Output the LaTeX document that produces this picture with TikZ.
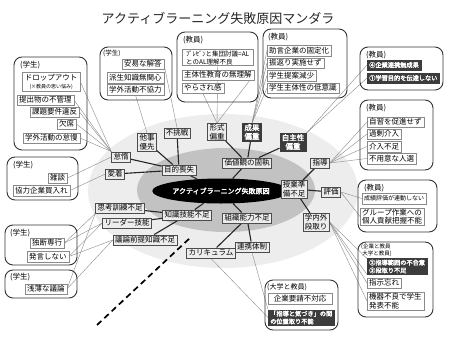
\documentclass[tikz,border=0pt]{standalone}
\usepackage{fontspec}
\setmainfont{Noto Sans CJK JP}[AutoFakeBold=2.5]
\usetikzlibrary{shapes.geometric}
\pgfdeclarelayer{bg}
\pgfdeclarelayer{links}
\pgfsetlayers{bg,links,main}
\definecolor{lightbg}{HTML}{EDEDED}
\definecolor{midbg}{HTML}{C2C2C2}
\definecolor{darkbox}{HTML}{3C3C3C}
\definecolor{catfill}{HTML}{EDEDED}
\definecolor{lineg}{HTML}{8A8A8A}
\definecolor{frame}{HTML}{333333}
\tikzset{
  item/.style={draw=lineg, fill=white, line width=0.45pt, inner xsep=2pt, inner ysep=1pt, minimum height=10.5pt, anchor=west, font=\fontsize{7.5}{8.6}\selectfont, align=left},
  ditem/.style={item, draw=darkbox, fill=darkbox, text=white, font=\fontsize{6.2}{7.8}\selectfont\bfseries},
  cat/.style={draw=black!70, fill=catfill, line width=0.5pt, inner xsep=2pt, inner ysep=1pt, minimum height=10.5pt, font=\fontsize{7.5}{8.6}\selectfont, align=center},
  dcat/.style={cat, draw=darkbox, fill=darkbox, text=white, font=\fontsize{7.5}{8.6}\selectfont\bfseries},
  grp/.style={draw=frame, line width=0.9pt, rounded corners=8pt},
  grplabel/.style={anchor=north west, inner sep=0pt, font=\fontsize{7.5}{8.5}\selectfont, align=left},
  strong/.style={draw=black!85, line width=1.1pt},
  weak/.style={draw=lineg, line width=0.4pt},
  dashline/.style={draw=black, line width=1.7pt, dash pattern=on 6pt off 4pt}
}
\begin{document}
\begin{tikzpicture}[x=1pt,y=-1pt]
\useasboundingbox (0,0) rectangle (449,337);
\begin{pgfonlayer}{bg}
\fill[lightbg] (223,191) ellipse [x radius=135pt, y radius=77pt];
\fill[midbg] (226,190) ellipse [x radius=89pt, y radius=42pt];
\end{pgfonlayer}

% title
\node[font=\fontsize{13}{15}\selectfont, text=black!85] (title) at (218,18) {アクティブラーニング失敗原因マンダラ};

% core
\node[ellipse, fill=black, minimum width=110pt, minimum height=25pt, inner sep=0pt, text=white, font=\fontsize{7}{8}\selectfont\bfseries] (core) at (221,191) {アクティブラーニング失敗原因};

% categories
\node[cat] (taida) at (121,157) {怠惰};
\node[cat] (aichaku) at (115,174) {愛着};
\node[cat] (taji) at (147,142) {他事\\優先};
\node[cat] (fuchosen) at (177,133) {不挑戦};
\node[cat] (mokuteki) at (179,170) {目的喪失};
\node[cat] (keishiki) at (217,132) {形式\\偏重};
\node[dcat] (seika) at (252,132) {成果\\偏重};
\node[dcat] (jishu) at (293,142) {自主性\\偏重};
\node[cat] (kachi) at (247,163) {価値観の固執};
\node[cat] (shido) at (320,163) {指導};
\node[cat] (jugyo) at (294,189) {授業準\\備不足};
\node[cat] (hyoka) at (331,192) {評価};
\node[cat] (gakunai) at (316,222) {学内外\\段取り};
\node[cat] (shiko) at (120,208) {思考訓練不足};
\node[cat] (leader) at (127,223) {リーダー技能};
\node[cat] (giron) at (145,240) {議論前提知識不足};
\node[cat] (chishiki) at (187,215) {知識技能不足};
\node[cat] (soshiki) at (247,218) {組織能力不足};
\node[cat] (renkei) at (252,247) {連携体制};
\node[cat] (curri) at (211,253) {カリキュラム};

% box 1 (students)
\draw[grp] (14,57) rectangle (87,150);
\node[grplabel] (lab1) at (20,61) {(学生)};
\node[item, align=center, minimum width=58pt, inner ysep=1.5pt] (drop) at (22,82) {ドロップアウト\\{\fontsize{5}{6}\selectfont (×教員の思い悩み)}};
\node[item] (teishutsu) at (17,100) {提出物の不管理};
\node[item] (kadai) at (30,112) {課題要件違反};
\node[item] (kesseki) at (57,124) {欠席};
\node[item] (gakugaiA) at (23,138) {学外活動の怠慢};

% box 2
\draw[grp] (7,157) rectangle (78,200);
\node[grplabel] (lab2) at (13,161) {(学生)};
\node[item] (zatsudan) at (48,178) {雑談};
\node[item] (kyoryoku) at (13,190.5) {協力企業買入れ};

% box 3
\draw[grp] (100,47) rectangle (172,100);
\node[grplabel, font=\fontsize{6.5}{7.5}\selectfont] (lab3) at (103,50) {(学生)};
\node[item] (anni) at (122,64) {安易な解答};
\node[item] (hasei) at (107,77.5) {派生知識無関心};
\node[item] (gakugaiB) at (107,89.5) {学外活動不協力};

% box 4
\draw[grp] (177,32) rectangle (258,102);
\node[grplabel] (lab4) at (183,36) {(教員)};
\node[item, font=\fontsize{6.5}{8}\selectfont, minimum width=71pt] (presen) at (182,57.5) {ﾌﾟﾚｾﾞﾝと集団討議=AL\\とのAL理解不良};
\node[item] (shutai) at (182,75) {主体性教育の無理解};
\node[item] (yarasare) at (182,88) {やらされ感};

% box 5
\draw[grp] (263,29) rectangle (347,98);
\node[grplabel] (lab5) at (268,33) {(教員)};
\node[item] (jogen) at (267,50.5) {助言企業の固定化};
\node[item] (furikaeri) at (267,63) {振返り実施せず};
\node[item] (teian) at (267,75.5) {学生提案減少};
\node[item] (teiishiki) at (267,88) {学生主体性の低意識};

% box 6
\draw[grp] (360,47) rectangle (443,90);
\node[grplabel] (lab6) at (366,51) {(教員)};
\node[ditem] (kigyo) at (367,65) {④企業連携無成果};
\node[ditem] (gakushu) at (367,78) {①学習目的を伝達しない};

% box 7
\draw[grp] (360,100) rectangle (433,170);
\node[grplabel] (lab7) at (366,104) {(教員)};
\node[item] (jishuu) at (367,122) {自習を促進せず};
\node[item] (kajo) at (367,134) {過剰介入};
\node[item] (kainyu) at (367,146.5) {介入不足};
\node[item] (fuyoi) at (367,158.5) {不用意な人選};

% box 8
\draw[grp] (358,180) rectangle (437,232);
\node[grplabel] (lab8) at (364,184) {(教員)};
\node[item, font=\fontsize{6}{7}\selectfont] (seiseki) at (362,198.5) {成績評価が連動しない};
\node[item] (group) at (360,216.5) {グループ作業への\\個人貢献把握不能};

% box 9
\draw[grp] (358,242) rectangle (433,317);
\node[grplabel, font=\fontsize{5.5}{6.2}\selectfont] (lab9) at (361,244) {(企業と教員\\\ 大学と教員)};
\node[ditem] (hanni) at (367,266.5) {②指導範囲の不合意\\③段取り不足};
\node[item] (shiji) at (367,283) {指示忘れ};
\node[item] (kiki) at (367,301) {機器不良で学生\\発表不能};

% box 10
\draw[grp] (265,280) rectangle (338,330);
\node[grplabel, font=\fontsize{7}{8}\selectfont] (lab10) at (267,283) {(大学と教員)};
\node[item, minimum width=64pt] (yosei) at (268,298.5) {企業要請不対応};
\node[ditem] (ichidori) at (268,317.5) {「指導と気づき」の間\\の位置取り不能};

% box 11
\draw[grp] (5,225) rectangle (77,265);
\node[grplabel] (lab11) at (10,229) {(学生)};
\node[item] (dokudan) at (30,243) {独断専行};
\node[item] (hatsugen) at (27,256.5) {発言しない};

% box 12
\draw[grp] (5,270) rectangle (77,298);
\node[grplabel] (lab12) at (10,273) {(学生)};
\node[item] (sempaku) at (25,289) {浅薄な議論};

\begin{pgfonlayer}{links}
% thin links
\draw[weak] (drop.east) -- (taida.north west);
\draw[weak] (teishutsu.east) -- (taida.north west);
\draw[weak] (kadai.east) -- (taida.north west);
\draw[weak] (kesseki.east) -- (taida.north west);
\draw[weak] (gakugaiA.east) -- (taida.north west);
\draw[weak] (zatsudan.east) -- (taida.west);
\draw[weak] (kyoryoku.east) -- (aichaku.west);
\draw[weak] (gakugaiB.south) -- (taji.north);
\draw[weak] (anni.east) -- (fuchosen.north);
\draw[weak] (presen.south) -- (keishiki.north);
\draw[weak] (shutai.east) -- (keishiki.north);
\draw[weak] (yarasare.south) -- (keishiki.north);
\draw[weak] (jogen.west) -- (seika.north);
\draw[weak] (furikaeri.west) -- (seika.north);
\draw[weak] (teian.west) -- (seika.north);
\draw[weak] (teiishiki.west) -- (seika.north);
\draw[weak] (kigyo.west) -- (jishu.north east);
\draw[weak] (gakushu.west) -- (jishu.north east);
\draw[weak] (jishuu.west) -- (shido.east);
\draw[weak] (kajo.west) -- (shido.east);
\draw[weak] (kainyu.west) -- (shido.east);
\draw[weak] (fuyoi.west) -- (shido.east);
\draw[weak] (seiseki.west) -- (hyoka.east);
\draw[weak] (group.west) -- (hyoka.east);
\draw[weak] (hanni.north west) -- (gakunai.east);
\draw[weak] (hanni.south west) -- (gakunai.east);
\draw[weak] (shiji.west) -- (gakunai.east);
\draw[weak] (kiki.west) -- (gakunai.east);
\draw[weak] (curri.south) -- (ichidori.west);
\draw[weak] (renkei.south) -- (ichidori.north west);
\draw[weak] (dokudan.east) -- (shiko.south west);
\draw[weak] (dokudan.east) -- (leader.west);
\draw[weak] (hatsugen.east) -- (leader.west);
\draw[weak] (hatsugen.east) -- (giron.west);
\draw[weak] (sempaku.east) -- (shiko.south west);
\draw[weak] (sempaku.east) -- (giron.west);
% strong links
\draw[strong] (taida) -- (mokuteki);
\draw[strong] (aichaku) -- (mokuteki);
\draw[strong] (taji) -- (mokuteki);
\draw[strong] (fuchosen) -- (mokuteki);
\draw[strong] (mokuteki) -- (core);
\draw[strong] (keishiki) -- (kachi);
\draw[strong] (seika) -- (kachi);
\draw[strong] (jishu) -- (kachi);
\draw[strong] (kachi) -- (core);
\draw[strong] (shido) -- (jugyo);
\draw[strong] (hyoka) -- (jugyo);
\draw[strong] (gakunai) -- (jugyo);
\draw[strong] (jugyo) -- (core);
\draw[strong] (shiko) -- (chishiki);
\draw[strong] (leader) -- (chishiki);
\draw[strong] (giron) -- (chishiki);
\draw[strong] (chishiki) -- (core);
\draw[strong] (soshiki) -- (core);
\draw[strong] (curri) -- (soshiki);
\draw[strong] (renkei) -- (soshiki);
\end{pgfonlayer}

% dashed line
\coordinate (dA) at (97,325);
\coordinate (dB) at (191,237);
\draw[dashline] (dA) -- (dB);
\end{tikzpicture}
\end{document}
